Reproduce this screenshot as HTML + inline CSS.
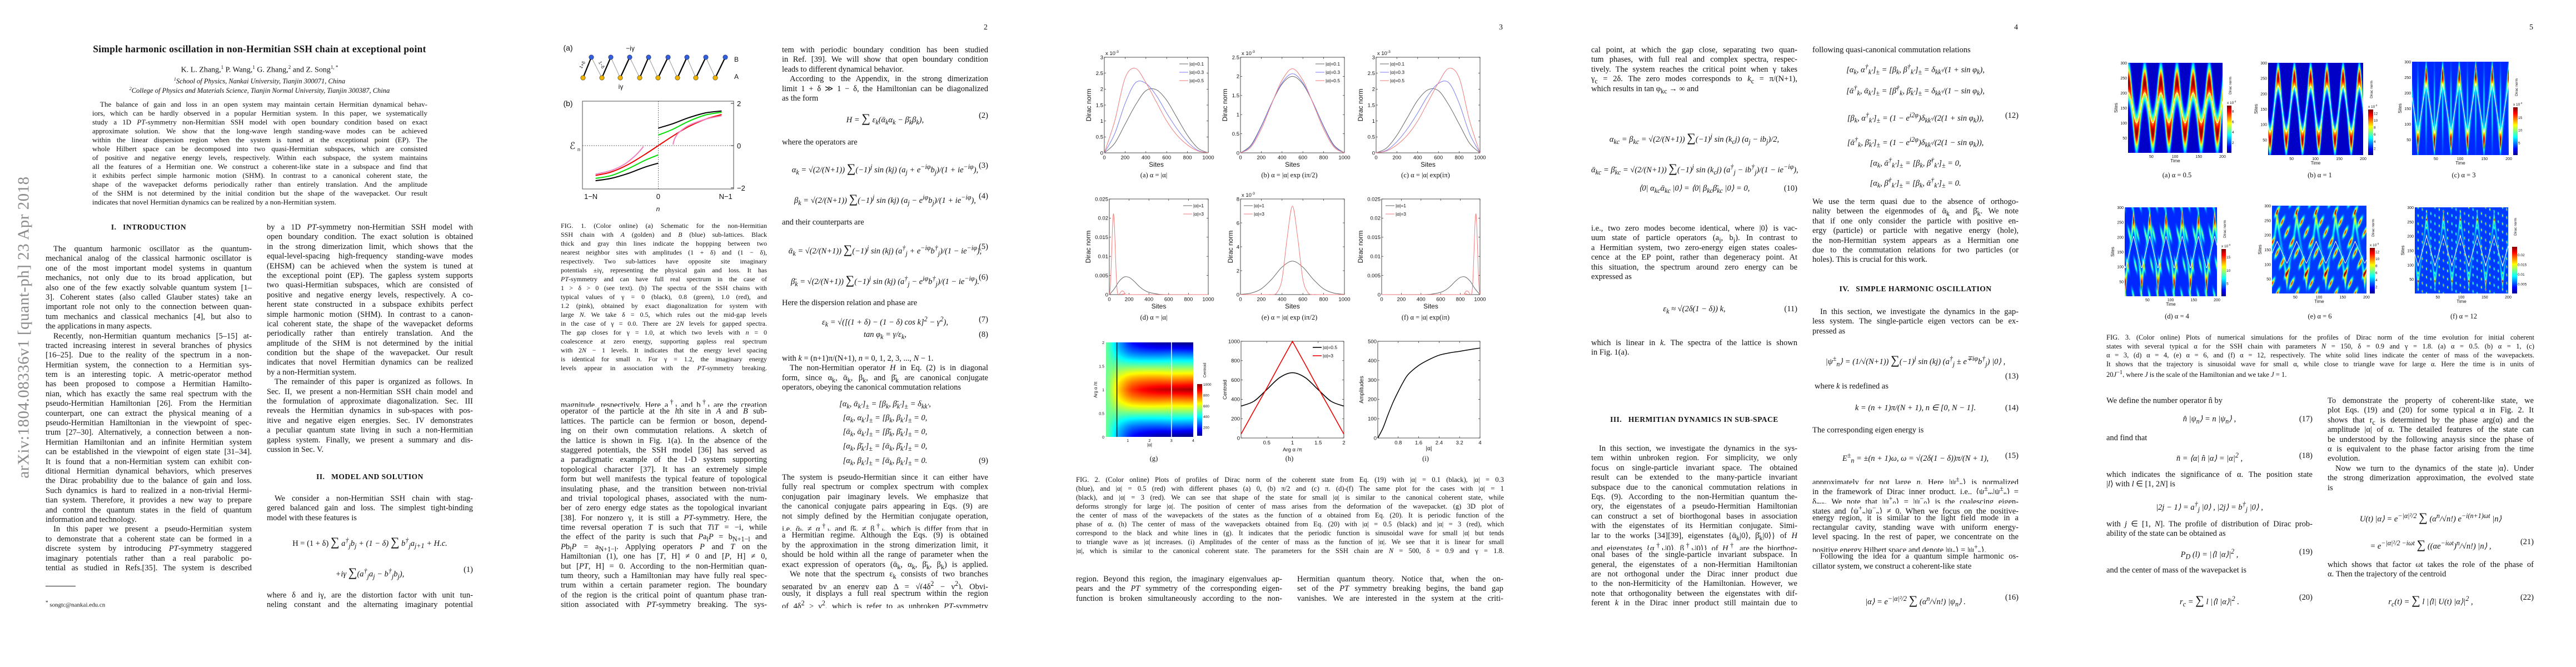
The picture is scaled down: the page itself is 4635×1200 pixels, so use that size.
<!DOCTYPE html>
<html><head><meta charset="utf-8"><title>Simple harmonic oscillation in non-Hermitian SSH chain</title>
<style>
html,body{margin:0;padding:0;background:#fff}
body{width:4635px;height:1200px;position:relative;overflow:hidden;font-family:"Liberation Serif",serif;color:#111}
.abs{position:absolute}
.col{position:absolute;width:371px;font-size:14.5px;line-height:17.4px}
.l{height:17.4px;overflow:hidden;text-align:justify;text-align-last:justify}
.l.e{text-align-last:left}
.l.i{text-indent:14px}
.cap{position:absolute;font-size:12px;line-height:16px}
.cap .l{height:16px}
.wcap{position:absolute;font-size:12.5px;line-height:16px;width:770px}
.wcap .l{height:16px}
.eq{position:absolute;width:371px;height:20px;font-size:14.5px;text-align:center;font-style:italic;white-space:nowrap}
.eq .n{position:absolute;right:0;top:0;font-style:normal}
.h{position:absolute;width:371px;text-align:center;font-weight:bold;font-size:13.5px;letter-spacing:0.5px}
.pn{position:absolute;font-size:14px}
.sub{position:absolute;font-size:12.5px;transform:translateX(-50%);white-space:nowrap}
canvas{position:absolute}
#overlay{position:absolute;left:0;top:0}
</style></head>
<body>

<!-- ================= PAGE 1 ================= -->
<div class="abs" style="left:43px;top:589px;transform:translate(-50%,-50%) rotate(-90deg);font-size:29px;color:#8a8a8a;white-space:nowrap;letter-spacing:0.5px">arXiv:1804.08336v1  [quant-ph]  23 Apr 2018</div>
<div class="abs" style="left:467px;top:78px;transform:translateX(-50%);font-size:17.5px;font-weight:bold;white-space:nowrap;letter-spacing:0.3px">Simple harmonic oscillation in non-Hermitian SSH chain at exceptional point</div>
<div class="abs" style="left:467px;top:116px;transform:translateX(-50%);font-size:14px;white-space:nowrap">K. L. Zhang,<sup style="font-size:9px">1</sup> P. Wang,<sup style="font-size:9px">1</sup> G. Zhang,<sup style="font-size:9px">2</sup> and Z. Song<sup style="font-size:9px">1, *</sup></div>
<div class="abs" style="left:467px;top:138px;transform:translateX(-50%);font-size:12.5px;font-style:italic;white-space:nowrap"><sup style="font-size:8px">1</sup>School of Physics, Nankai University, Tianjin 300071, China</div>
<div class="abs" style="left:467px;top:155px;transform:translateX(-50%);font-size:12.5px;font-style:italic;white-space:nowrap"><sup style="font-size:8px">2</sup>College of Physics and Materials Science, Tianjin Normal University, Tianjin 300387, China</div>
<div class="col" style="left:166px;top:180px;width:603px;font-size:13px;line-height:16px">
<div class="l i" style="height:16px">The balance of gain and loss in an open system may maintain certain Hermitian dynamical behav-</div>
<div class="l" style="height:16px">iors, which can be hardly observed in a popular Hermitian system. In this paper, we systematically</div>
<div class="l" style="height:16px">study a 1D <i>PT</i>-symmetry non-Hermitian SSH model with open boundary condition based on exact</div>
<div class="l" style="height:16px">approximate solution. We show that the long-wave length standing-wave modes can be achieved</div>
<div class="l" style="height:16px">within the linear dispersion region when the system is tuned at the exceptional point (EP). The</div>
<div class="l" style="height:16px">whole Hilbert space can be decomposed into two quasi-Hermitian subspaces, which are consisted</div>
<div class="l" style="height:16px">of positive and negative energy levels, respectively. Within each subspace, the system maintains</div>
<div class="l" style="height:16px">all the features of a Hermitian one. We construct a coherent-like state in a subspace and find that</div>
<div class="l" style="height:16px">it exhibits perfect simple harmonic motion (SHM). In contrast to a canonical coherent state, the</div>
<div class="l" style="height:16px">shape of the wavepacket deforms periodically rather than entirely translation. And the amplitude</div>
<div class="l" style="height:16px">of the SHM is not determined by the initial condition but the shape of the wavepacket. Our result</div>
<div class="l e" style="height:16px">indicates that novel Hermitian dynamics can be realized by a non-Hermitian system.</div>
</div>
<div class="h" style="left:82px;top:401px">I.&nbsp;&nbsp;&nbsp;INTRODUCTION</div>
<div class="col" style="left:82px;top:440px">
<div class="l i">The quantum harmonic oscillator as the quantum-</div>
<div class="l">mechanical analog of the classical harmonic oscillator is</div>
<div class="l">one of the most important model systems in quantum</div>
<div class="l">mechanics, not only due to its broad application, but</div>
<div class="l">also one of the few exactly solvable quantum system [1–</div>
<div class="l">3]. Coherent states (also called Glauber states) take an</div>
<div class="l">important role not only to the connection between quan-</div>
<div class="l">tum mechanics and classical mechanics [4], but also to</div>
<div class="l e">the applications in many aspects.</div>
<div class="l i">Recently, non-Hermitian quantum mechanics [5–15] at-</div>
<div class="l">tracted increasing interest in several branches of physics</div>
<div class="l">[16–25]. Due to the reality of the spectrum in a non-</div>
<div class="l">Hermitian system, the connection to a Hermitian sys-</div>
<div class="l">tem is an interesting topic. A metric-operator method</div>
<div class="l">has been proposed to compose a Hermitian Hamilto-</div>
<div class="l">nian, which has exactly the same real spectrum with the</div>
<div class="l">pseudo-Hermitian Hamiltonian [26]. From the Hermitian</div>
<div class="l">counterpart, one can extract the physical meaning of a</div>
<div class="l">pseudo-Hermitian Hamiltonian in the viewpoint of spec-</div>
<div class="l">trum [27–30]. Alternatively, a connection between a non-</div>
<div class="l">Hermitian Hamiltonian and an infinite Hermitian system</div>
<div class="l">can be established in the viewpoint of eigen state [31–34].</div>
<div class="l">It is found that a non-Hermitian system can exhibit con-</div>
<div class="l">ditional Hermitian dynamical behaviors, which preserves</div>
<div class="l">the Dirac probability due to the balance of gain and loss.</div>
<div class="l">Such dynamics is hard to realized in a non-trivial Hermi-</div>
<div class="l">tian system. Therefore, it provides a new way to prepare</div>
<div class="l">and control the quantum states in the field of quantum</div>
<div class="l e">information and technology.</div>
<div class="l i">In this paper we present a pseudo-Hermitian system</div>
<div class="l">to demonstrate that a coherent state can be formed in a</div>
<div class="l">discrete system by introducing <i>PT</i>-symmetry staggered</div>
<div class="l">imaginary potentials rather than a real parabolic po-</div>
<div class="l">tential as studied in Refs.[35]. The system is described</div>
</div>
<div class="abs" style="left:82px;top:1054px;width:54px;height:1px;background:#222"></div>
<div class="abs" style="left:82px;top:1079px;font-size:11px"><sup>*</sup> songtc@nankai.edu.cn</div>
<div class="col" style="left:480px;top:401px">
<div class="l">by a 1D <i>PT</i>-symmetry non-Hermitian SSH model with</div>
<div class="l">open boundary condition. The exact solution is obtained</div>
<div class="l">in the strong dimerization limit, which shows that the</div>
<div class="l">equal-level-spacing high-frequency standing-wave modes</div>
<div class="l">(EHSM) can be achieved when the system is tuned at</div>
<div class="l">the exceptional point (EP). The gapless system supports</div>
<div class="l">two quasi-Hermitian subspaces, which are consisted of</div>
<div class="l">positive and negative energy levels, respectively. A co-</div>
<div class="l">herent state constructed in a subspace exhibits perfect</div>
<div class="l">simple harmonic motion (SHM). In contrast to a canon-</div>
<div class="l">ical coherent state, the shape of the wavepacket deforms</div>
<div class="l">periodically rather than entirely translation. And the</div>
<div class="l">amplitude of the SHM is not determined by the initial</div>
<div class="l">condition but the shape of the wavepacket. Our result</div>
<div class="l">indicates that novel Hermitian dynamics can be realized</div>
<div class="l e">by a non-Hermitian system.</div>
<div class="l i">The remainder of this paper is organized as follows. In</div>
<div class="l">Sec. II, we present a non-Hermitian SSH chain model and</div>
<div class="l">the formulation of approximate diagonalization. Sec. III</div>
<div class="l">reveals the Hermitian dynamics in sub-spaces with pos-</div>
<div class="l">itive and negative eigen energies. Sec. IV demonstrates</div>
<div class="l">a peculiar quantum state living in such a non-Hermitian</div>
<div class="l">gapless system. Finally, we present a summary and dis-</div>
<div class="l e">cussion in Sec. V.</div>
</div>
<div class="h" style="left:480px;top:850px">II.&nbsp;&nbsp;&nbsp;MODEL AND SOLUTION</div>
<div class="col" style="left:480px;top:889px">
<div class="l i">We consider a non-Hermitian SSH chain with stag-</div>
<div class="l">gered balanced gain and loss. The simplest tight-binding</div>
<div class="l e">model with these features is</div>
</div>
<div class="eq" style="left:480px;top:962px"><span style="font-style:normal">H = (1 + δ) <span style="font-size:22px">∑</span></span> a<sup>†</sup><sub>j</sub>b<sub>j</sub> + (1 − δ) <span style="font-size:22px;font-style:normal">∑</span> b<sup>†</sup><sub>j</sub>a<sub>j+1</sub> + H.c.</div>
<div class="eq" style="left:480px;top:1017px">+iγ <span style="font-size:22px;font-style:normal">∑</span>(a<sup>†</sup><sub>j</sub>a<sub>j</sub> − b<sup>†</sup><sub>j</sub>b<sub>j</sub>),<span class="n">(1)</span></div>
<div class="col" style="left:480px;top:1063px">
<div class="l">where δ and iγ, are the distortion factor with unit tun-</div>
<div class="l">neling constant and the alternating imaginary potential</div>
</div>

<!-- ================= PAGE 2 ================= -->
<div class="pn" style="left:1770px;top:42px">2</div>
<div class="cap" style="left:1009px;top:398px;width:371px">
<div class="l">FIG. 1. (Color online) (a) Schematic for the non-Hermitian</div>
<div class="l">SSH chain with <i>A</i> (golden) and <i>B</i> (blue) sub-lattices. Black</div>
<div class="l">thick and gray thin lines indicate the hoppping between two</div>
<div class="l">nearest neighbor sites with amplitudes (1 + δ) and (1 − δ),</div>
<div class="l">respectively. Two sub-lattices have opposite site imaginary</div>
<div class="l">potentials ±iγ, representing the physical gain and loss. It has</div>
<div class="l"><i>PT</i>-symmetry and can have full real spectrum in the case of</div>
<div class="l">1 &gt; δ &gt; 0 (see text). (b) The spectra of the SSH chains with</div>
<div class="l">typical values of γ = 0 (black), 0.8 (green), 1.0 (red), and</div>
<div class="l">1.2 (pink), obtained by exact diagonalization for system with</div>
<div class="l">large <i>N</i>. We take δ = 0.5, which rules out the mid-gap levels</div>
<div class="l">in the case of γ = 0.0. There are 2<i>N</i> levels for gapped spectra.</div>
<div class="l">The gap closes for γ = 1.0, at which two levels with <i>n</i> = 0</div>
<div class="l">coalescence at zero energy, supporting gapless real spectrum</div>
<div class="l">with 2<i>N</i> − 1 levels. It indicates that the energy level spacing</div>
<div class="l">is identical for small <i>n</i>. For γ = 1.2, the imaginary energy</div>
<div class="l">levels appear in association with the <i>PT</i>-symmetry breaking.</div>
</div>
<div class="col" style="left:1009px;top:715px">
<div class="l">magnitude, respectively. Here a<sup>†</sup><sub>l</sub> and b<sup>†</sup><sub>l</sub> are the creation</div>
<div class="l">operator of the particle at the <i>l</i>th site in <i>A</i> and <i>B</i> sub-</div>
<div class="l">lattices. The particle can be fermion or boson, depend-</div>
<div class="l">ing on their own commutation relations. A sketch of</div>
<div class="l">the lattice is shown in Fig. 1(a). In the absence of the</div>
<div class="l">staggered potentials, the SSH model [36] has served as</div>
<div class="l">a paradigmatic example of the 1-D system supporting</div>
<div class="l">topological character [37]. It has an extremely simple</div>
<div class="l">form but well manifests the typical feature of topological</div>
<div class="l">insulating phase, and the transition between non-trivial</div>
<div class="l">and trivial topological phases, associated with the num-</div>
<div class="l">ber of zero energy edge states as the topological invariant</div>
<div class="l">[38]. For nonzero γ, it is still a <i>PT</i>-symmetry. Here, the</div>
<div class="l">time reversal operation <i>T</i> is such that <i>T</i>i<i>T</i> = −i, while</div>
<div class="l">the effect of the parity is such that <i>P</i>a<sub>l</sub><i>P</i> = b<sub>N+1−l</sub> and</div>
<div class="l"><i>P</i>b<sub>l</sub><i>P</i> = a<sub>N+1−l</sub>. Applying operators <i>P</i> and <i>T</i> on the</div>
<div class="l">Hamiltonian (1), one has [<i>T</i>, H] ≠ 0 and [<i>P</i>, H] ≠ 0,</div>
<div class="l">but [<i>PT</i>, H] = 0. According to the non-Hermitian quan-</div>
<div class="l">tum theory, such a Hamiltonian may have fully real spec-</div>
<div class="l">trum within a certain parameter region. The boundary</div>
<div class="l">of the region is the critical point of quantum phase tran-</div>
<div class="l">sition associated with <i>PT</i>-symmetry breaking. The sys-</div>
</div>
<div class="col" style="left:1407px;top:82px">
<div class="l">tem with periodic boundary condition has been studied</div>
<div class="l">in Ref. [39]. We will show that open boundary condition</div>
<div class="l e">leads to different dynamical behavior.</div>
<div class="l i">According to the Appendix, in the strong dimerization</div>
<div class="l">limit 1 + δ ≫ 1 − δ, the Hamiltonian can be diagonalized</div>
<div class="l e">as the form</div>
</div>
<div class="eq" style="left:1407px;top:200px">H = <span style="font-size:22px;font-style:normal">∑</span> ε<sub>k</sub>(ᾱ<sub>k</sub>α<sub>k</sub> − β̄<sub>k</sub>β<sub>k</sub>),<span class="n">(2)</span></div>
<div class="col" style="left:1407px;top:248px"><div class="l e">where the operators are</div></div>
<div class="eq" style="left:1407px;top:290px">α<sub>k</sub> = √(2/(N+1)) <span style="font-size:22px;font-style:normal">∑</span>(−1)<sup>j</sup> sin (kj) (a<sub>j</sub> + e<sup>−iφ</sup>b<sub>j</sub>)/(1 + ie<sup>−iφ</sup>),<span class="n">(3)</span></div>
<div class="eq" style="left:1407px;top:345px">β<sub>k</sub> = √(2/(N+1)) <span style="font-size:22px;font-style:normal">∑</span>(−1)<sup>j</sup> sin (kj) (a<sub>j</sub> − e<sup>iφ</sup>b<sub>j</sub>)/(1 + ie<sup>−iφ</sup>),<span class="n">(4)</span></div>
<div class="col" style="left:1407px;top:392px"><div class="l e">and their counterparts are</div></div>
<div class="eq" style="left:1407px;top:436px">ᾱ<sub>k</sub> = √(2/(N+1)) <span style="font-size:22px;font-style:normal">∑</span>(−1)<sup>j</sup> sin (kj) (a<sup>†</sup><sub>j</sub> + e<sup>−iφ</sup>b<sup>†</sup><sub>j</sub>)/(1 − ie<sup>−iφ</sup>),<span class="n">(5)</span></div>
<div class="eq" style="left:1407px;top:491px">β̄<sub>k</sub> = √(2/(N+1)) <span style="font-size:22px;font-style:normal">∑</span>(−1)<sup>j</sup> sin (kj) (a<sup>†</sup><sub>j</sub> − e<sup>iφ</sup>b<sup>†</sup><sub>j</sub>)/(1 − ie<sup>−iφ</sup>).<span class="n">(6)</span></div>
<div class="col" style="left:1407px;top:537px"><div class="l e">Here the dispersion relation and phase are</div></div>
<div class="eq" style="left:1407px;top:567px">ε<sub>k</sub> = √([(1 + δ) − (1 − δ) cos k]<sup>2</sup> − γ<sup>2</sup>),<span class="n">(7)</span></div>
<div class="eq" style="left:1407px;top:594px">tan φ<sub>k</sub> = γ/ε<sub>k</sub>,<span class="n">(8)</span></div>
<div class="col" style="left:1407px;top:637px">
<div class="l e">with <i>k</i> = (n+1)π/(N+1), <i>n</i> = 0, 1, 2, 3, ..., <i>N</i> − 1.</div>
<div class="l i">The non-Hermitian operator <i>H</i> in Eq. (2) is in diagonal</div>
<div class="l">form, since α<sub>k</sub>, ᾱ<sub>k</sub>, β<sub>k</sub>, and β̄<sub>k</sub> are canonical conjugate</div>
<div class="l e">operators, obeying the canonical commutation relations</div>
</div>
<div class="eq" style="left:1407px;top:719px">[α<sub>k</sub>, ᾱ<sub>k′</sub>]<sub>±</sub> = [β<sub>k</sub>, β̄<sub>k′</sub>]<sub>±</sub> = δ<sub>kk′</sub>,</div>
<div class="eq" style="left:1407px;top:744px">[α<sub>k</sub>, α<sub>k′</sub>]<sub>±</sub> = [β<sub>k</sub>, β<sub>k′</sub>]<sub>±</sub> = 0,</div>
<div class="eq" style="left:1407px;top:769px">[ᾱ<sub>k</sub>, ᾱ<sub>k′</sub>]<sub>±</sub> = [β̄<sub>k</sub>, β̄<sub>k′</sub>]<sub>±</sub> = 0,</div>
<div class="eq" style="left:1407px;top:795px">[α<sub>k</sub>, β̄<sub>k′</sub>]<sub>±</sub> = [ᾱ<sub>k</sub>, β̄<sub>k′</sub>]<sub>±</sub> = 0,</div>
<div class="eq" style="left:1407px;top:821px">[α<sub>k</sub>, β<sub>k′</sub>]<sub>±</sub> = [ᾱ<sub>k</sub>, β<sub>k′</sub>]<sub>±</sub> = 0.<span class="n">(9)</span></div>
<div class="col" style="left:1407px;top:851px">
<div class="l">The system is pseudo-Hermitian since it can either have</div>
<div class="l">fully real spectrum or complex spectrum with complex</div>
<div class="l">conjugation pair imaginary levels. We emphasize that</div>
<div class="l">the canonical conjugate pairs appearing in Eqs. (9) are</div>
<div class="l">not simply defined by the Hermitian conjugate operation,</div>
<div class="l">i.e. ᾱ<sub>k</sub> ≠ α<sup>†</sup><sub>k</sub> and β̄<sub>k</sub> ≠ β<sup>†</sup><sub>k</sub>, which is differ from that in</div>
<div class="l">a Hermitian regime. Although the Eqs. (9) is obtained</div>
<div class="l">by the approximation in the strong dimerization limit, it</div>
<div class="l">should be hold within all the range of parameter when the</div>
<div class="l">exact expression of operators (ᾱ<sub>k</sub>, α<sub>k</sub>, β̄<sub>k</sub>, β<sub>k</sub>) is applied.</div>
<div class="l i">We note that the spectrum ε<sub>k</sub> consists of two branches</div>
<div class="l">separated by an energy gap Δ = √(4δ<sup>2</sup> − γ<sup>2</sup>). Obvi-</div>
<div class="l">ously, it displays a full real spectrum within the region</div>
<div class="l">of 4δ<sup>2</sup> ≥ γ<sup>2</sup>, which is refer to as unbroken <i>PT</i>-symmetry</div>
</div>

<!-- ================= PAGE 3 ================= -->
<div class="pn" style="left:2697px;top:42px">3</div>
<div class="sub" style="left:2076px;top:308px">(a) α = |α|</div>
<div class="sub" style="left:2320px;top:308px">(b) α = |α| exp (iπ/2)</div>
<div class="sub" style="left:2565px;top:308px">(c) α = |α| exp(iπ)</div>
<div class="sub" style="left:2076px;top:564px">(d) α = |α|</div>
<div class="sub" style="left:2320px;top:564px">(e) α = |α| exp (iπ/2)</div>
<div class="sub" style="left:2565px;top:564px">(f) α = |α| exp(iπ)</div>
<div class="sub" style="left:2076px;top:818px">(g)</div>
<div class="sub" style="left:2320px;top:818px">(h)</div>
<div class="sub" style="left:2565px;top:818px">(i)</div>
<canvas id="cv2g" width="157" height="170" style="left:1990px;top:616px"></canvas>
<div class="wcap" style="left:1936px;top:855px">
<div class="l">FIG. 2. (Color online) Plots of profiles of Dirac norm of the coherent state from Eq. (19) with |α| = 0.1 (black), |α| = 0.3</div>
<div class="l">(blue), and |α| = 0.5 (red) with different phases (a) 0, (b) π/2 and (c) π. (d)-(f) The same plot for the cases with |α| = 1</div>
<div class="l">(black), and |α| = 3 (red). We can see that shape of the state for small |α| is similar to the canonical coherent state, while</div>
<div class="l">deforms strongly for large |α|. The position of center of mass arises from the deformation of the wavepacket. (g) 3D plot of</div>
<div class="l">the center of mass of the wavepackets of the states as the function of α obtained from Eq. (20). It is periodic function of the</div>
<div class="l">phase of α. (h) The center of mass of the wavepackets obtained from Eq. (20) with |α| = 0.5 (black) and |α| = 3 (red), which</div>
<div class="l">correspond to the black and white lines in (g). It indicates that the periodic function is sinusoidal wave for small |α| but tends</div>
<div class="l">to triangle wave as |α| increases. (i) Amplitudes of the center of mass as the function of |α|. We see that it is linear for small</div>
<div class="l">|α|, which is similar to the canonical coherent state. The parameters for the SSH chain are <i>N</i> = 500, δ = 0.9 and γ = 1.8.</div>
</div>
<div class="col" style="left:1936px;top:1034px">
<div class="l">region. Beyond this region, the imaginary eigenvalues ap-</div>
<div class="l">pears and the <i>PT</i> symmetry of the corresponding eigen-</div>
<div class="l">function is broken simultaneously according to the non-</div>
</div>
<div class="col" style="left:2334px;top:1034px">
<div class="l">Hermitian quantum theory. Notice that, when the on-</div>
<div class="l">set of the <i>PT</i> symmetry breaking begins, the band gap</div>
<div class="l">vanishes. We are interested in the system at the criti-</div>
</div>

<!-- ================= PAGE 4 ================= -->
<div class="pn" style="left:3624px;top:42px">4</div>
<div class="col" style="left:2863px;top:82px">
<div class="l">cal point, at which the gap close, separating two quan-</div>
<div class="l">tum phases, with full real and complex spectra, respec-</div>
<div class="l">tively. The system reaches the critical point when γ takes</div>
<div class="l">γ<sub>c</sub> = 2δ. The zero modes corresponds to <i>k</i><sub>c</sub> = π/(N+1),</div>
<div class="l e">which results in tan φ<sub>kc</sub> → ∞ and</div>
</div>
<div class="eq" style="left:2863px;top:235px">α<sub>kc</sub> = β<sub>kc</sub> = √(2/(N+1)) <span style="font-size:22px;font-style:normal">∑</span>(−1)<sup>j</sup> sin (k<sub>c</sub>j) (a<sub>j</sub> − ib<sub>j</sub>)/2,</div>
<div class="eq" style="left:2863px;top:290px">ᾱ<sub>kc</sub> = β̄<sub>kc</sub> = √(2/(N+1)) <span style="font-size:22px;font-style:normal">∑</span>(−1)<sup>j</sup> sin (k<sub>c</sub>j) (a<sup>†</sup><sub>j</sub> − ib<sup>†</sup><sub>j</sub>)/(1 − ie<sup>−iφ</sup>),</div>
<div class="eq" style="left:2863px;top:331px">⟨0| α<sub>kc</sub>ᾱ<sub>kc</sub> |0⟩ = ⟨0| β<sub>kc</sub>β̄<sub>kc</sub> |0⟩ = 0,<span class="n">(10)</span></div>
<div class="col" style="left:2863px;top:403px">
<div class="l">i.e., two zero modes become identical, where |0⟩ is vac-</div>
<div class="l">uum state of particle operators (a<sub>j</sub>, b<sub>j</sub>). In contrast to</div>
<div class="l">a Hermitian system, two zero-energy eigen states coales-</div>
<div class="l">cence at the EP point, rather than degeneracy point. At</div>
<div class="l">this situation, the spectrum around zero energy can be</div>
<div class="l e">expressed as</div>
</div>
<div class="eq" style="left:2863px;top:548px">ε<sub>k</sub> ≈ √(2δ(1 − δ)) k,<span class="n">(11)</span></div>
<div class="col" style="left:2863px;top:609px">
<div class="l">which is linear in <i>k</i>. The spectra of the lattice is shown</div>
<div class="l e">in Fig. 1(a).</div>
</div>
<div class="h" style="left:2863px;top:747px">III.&nbsp;&nbsp;&nbsp;HERMITIAN DYNAMICS IN SUB-SPACE</div>
<div class="col" style="left:2863px;top:799px">
<div class="l i">In this section, we investigate the dynamics in the sys-</div>
<div class="l">tem within unbroken region. For simplicity, we only</div>
<div class="l">focus on single-particle invariant space. The obtained</div>
<div class="l">result can be extended to the many-particle invariant</div>
<div class="l">subspace due to the canonical commutation relations in</div>
<div class="l">Eqs. (9). According to the non-Hermitian quantum the-</div>
<div class="l">ory, the eigenstates of a pseudo-Hermitian Hamiltonian</div>
<div class="l">can construct a set of biorthogonal bases in association</div>
<div class="l">with the eigenstates of its Hermitian conjugate. Simi-</div>
<div class="l">lar to the works [34][39], eigenstates {ᾱ<sub>k</sub>|0⟩, β̄<sub>k</sub>|0⟩} of <i>H</i></div>
<div class="l">and eigenstates {α<sup>†</sup><sub>k</sub>|0⟩, β<sup>†</sup><sub>k</sub>|0⟩} of <i>H</i><sup>†</sup> are the biorthog-</div>
<div class="l">onal bases of the single-particle invariant subspace. In</div>
<div class="l">general, the eigenstates of a non-Hermitian Hamiltonian</div>
<div class="l">are not orthogonal under the Dirac inner product due</div>
<div class="l">to the non-Hermiticity of the Hamiltonian. However, we</div>
<div class="l">note that orthogonality between the eigenstates with dif-</div>
<div class="l">ferent <i>k</i> in the Dirac inner product still maintain due to</div>
</div>
<div class="col" style="left:3261px;top:82px"><div class="l e">following quasi-canonical commutation relations</div></div>
<div class="eq" style="left:3261px;top:113px">[α<sub>k</sub>, α<sup>†</sup><sub>k′</sub>]<sub>±</sub> = [β<sub>k</sub>, β<sup>†</sup><sub>k′</sub>]<sub>±</sub> = δ<sub>kk′</sub>/(1 + sin φ<sub>k</sub>),</div>
<div class="eq" style="left:3261px;top:151px">[ᾱ<sup>†</sup><sub>k</sub>, ᾱ<sub>k′</sub>]<sub>±</sub> = [β̄<sup>†</sup><sub>k</sub>, β̄<sub>k′</sub>]<sub>±</sub> = δ<sub>kk′</sub>/(1 − sin φ<sub>k</sub>),</div>
<div class="eq" style="left:3261px;top:200px">[β<sub>k</sub>, α<sup>†</sup><sub>k′</sub>]<sub>±</sub> = (1 − e<sup>i2φ</sup>)δ<sub>kk′</sub>/(2(1 + sin φ<sub>k</sub>)),<span class="n">(12)</span></div>
<div class="eq" style="left:3261px;top:244px">[ᾱ<sup>†</sup><sub>k</sub>, β̄<sub>k′</sub>]<sub>±</sub> = (1 − e<sup>i2φ</sup>)δ<sub>kk′</sub>/(2(1 − sin φ<sub>k</sub>)),</div>
<div class="eq" style="left:3261px;top:281px">[α<sub>k</sub>, ᾱ<sup>†</sup><sub>k′</sub>]<sub>±</sub> = [β<sub>k</sub>, β̄<sup>†</sup><sub>k′</sub>]<sub>±</sub> = 0,</div>
<div class="eq" style="left:3261px;top:317px">[α<sub>k</sub>, β̄<sup>†</sup><sub>k′</sub>]<sub>±</sub> = [β<sub>k</sub>, ᾱ<sup>†</sup><sub>k′</sub>]<sub>±</sub> = 0.</div>
<div class="col" style="left:3261px;top:355px">
<div class="l">We use the term quasi due to the absence of orthogo-</div>
<div class="l">nality between the eigenmodes of ᾱ<sub>k</sub> and β̄<sub>k</sub>. We note</div>
<div class="l">that if one only consider the particle with positive en-</div>
<div class="l">ergy (particle) or particle with negative energy (hole),</div>
<div class="l">the non-Hermitian system appears as a Hermitian one</div>
<div class="l">due to the commutation relations for two particles (or</div>
<div class="l e">holes). This is crucial for this work.</div>
</div>
<div class="h" style="left:3261px;top:512px">IV.&nbsp;&nbsp;&nbsp;SIMPLE HARMONIC OSCILLATION</div>
<div class="col" style="left:3261px;top:553px">
<div class="l i">In this section, we investigate the dynamics in the gap-</div>
<div class="l">less system. The single-particle eigen vectors can be ex-</div>
<div class="l e">pressed as</div>
</div>
<div class="eq" style="left:3261px;top:635px">|ψ<sup>±</sup><sub>n</sub>⟩ = (1/√(N+1)) <span style="font-size:22px;font-style:normal">∑</span>(−1)<sup>j</sup> sin (kj) (a<sup>†</sup><sub>j</sub> ± e<sup>∓iφ</sup>b<sup>†</sup><sub>j</sub>) |0⟩ ,</div>
<div class="eq" style="left:3261px;top:669px"><span class="n">(13)</span></div>
<div class="col" style="left:3265px;top:687px"><div class="l e">where <i>k</i> is redefined as</div></div>
<div class="eq" style="left:3261px;top:726px">k = (n + 1)π/(N + 1), n ∈ [0, N − 1].<span class="n">(14)</span></div>
<div class="col" style="left:3261px;top:766px"><div class="l e">The corresponding eigen energy is</div></div>
<div class="eq" style="left:3261px;top:812px">E<sup>±</sup><sub>n</sub> = ±(n + 1)ω, ω = √(2δ(1 − δ))π/(N + 1),<span class="n">(15)</span></div>
<div class="col" style="left:3261px;top:854px">
<div class="l">approximately for not large <i>n</i>. Here |ψ<sup>±</sup><sub>n</sub>⟩ is normalized</div>
<div class="l">in the framework of Dirac inner product, i.e., ⟨ψ<sup>±</sup><sub>m</sub>|ψ<sup>±</sup><sub>n</sub>⟩ =</div>
<div class="l">δ<sub>mn</sub>. We note that |ψ<sup>+</sup><sub>0</sub>⟩ = |ψ<sup>−</sup><sub>0</sub>⟩ is the coalescing eigen-</div>
<div class="l">states and ⟨ψ<sup>+</sup><sub>n</sub>|ψ<sup>−</sup><sub>n</sub>⟩ ≠ 0. When we focus on the positive-</div>
<div class="l">energy region, it is similar to the light field mode in a</div>
<div class="l">rectangular cavity, standing wave with uniform energy-</div>
<div class="l">level spacing. In the rest of paper, we concentrate on the</div>
<div class="l e">positive energy Hilbert space and denote |ψ<sub>n</sub>⟩ = |ψ<sup>+</sup><sub>n</sub>⟩.</div>
<div class="l i">Following the idea for a quantum simple harmonic os-</div>
<div class="l e">cillator system, we construct a coherent-like state</div>
</div>
<div class="eq" style="left:3261px;top:1067px">|α⟩ = e<sup>−|α|²/2</sup> <span style="font-size:22px;font-style:normal">∑</span> (α<sup>n</sup>/√n!) |ψ<sub>n</sub>⟩ .<span class="n">(16)</span></div>

<!-- ================= PAGE 5 ================= -->
<div class="pn" style="left:4551px;top:42px">5</div>
<canvas id="cv3a" width="170" height="162" style="left:3829px;top:113px"></canvas>
<canvas id="cv3b" width="171" height="166" style="left:4081px;top:113px"></canvas>
<canvas id="cv3c" width="174" height="168" style="left:4340px;top:111px"></canvas>
<canvas id="cv3d" width="166" height="160" style="left:3823px;top:373px"></canvas>
<canvas id="cv3e" width="170" height="158" style="left:4088px;top:370px"></canvas>
<canvas id="cv3f" width="168" height="155" style="left:4345px;top:373px"></canvas>
<div class="sub" style="left:3917px;top:308px">(a) α = 0.5</div>
<div class="sub" style="left:4174px;top:308px">(b) α = 1</div>
<div class="sub" style="left:4433px;top:308px">(c) α = 3</div>
<div class="sub" style="left:3917px;top:562px">(d) α = 4</div>
<div class="sub" style="left:4174px;top:562px">(e) α = 6</div>
<div class="sub" style="left:4433px;top:562px">(f) α = 12</div>
<div class="wcap" style="left:3790px;top:599px">
<div class="l">FIG. 3. (Color online) Plots of numerical simulations for the profiles of Dirac norm of the time evolution for initial coherent</div>
<div class="l">states with several typical α for the SSH chain with parameters <i>N</i> = 150, δ = 0.9 and γ = 1.8. (a) α = 0.5. (b) α = 1, (c)</div>
<div class="l">α = 3, (d) α = 4, (e) α = 6, and (f) α = 12, respectively. The white solid lines indicate the center of mass of the wavepackets.</div>
<div class="l">It shows that the trajectory is sinusoidal wave for small α, while close to triangle wave for large α. Here the time is in units of</div>
<div class="l e">20<i>J</i><sup>−1</sup>, where <i>J</i> is the scale of the Hamiltonian and we take <i>J</i> = 1.</div>
</div>
<div class="col" style="left:3790px;top:713px"><div class="l e">We define the number operator n̂ by</div></div>
<div class="eq" style="left:3790px;top:746px">n̂ |ψ<sub>n</sub>⟩ = n |ψ<sub>n</sub>⟩ ,<span class="n">(17)</span></div>
<div class="col" style="left:3790px;top:780px"><div class="l e">and find that</div></div>
<div class="eq" style="left:3790px;top:812px">n̄ = ⟨α| n̂ |α⟩ = |α|<sup>2</sup> ,<span class="n">(18)</span></div>
<div class="col" style="left:3790px;top:846px">
<div class="l">which indicates the significance of α. The position state</div>
<div class="l e">|<i>l</i>⟩ with <i>l</i> ∈ [1, 2<i>N</i>] is</div>
</div>
<div class="eq" style="left:3790px;top:900px">|2j − 1⟩ = a<sup>†</sup><sub>j</sub> |0⟩ , |2j⟩ = b<sup>†</sup><sub>j</sub> |0⟩ ,</div>
<div class="col" style="left:3790px;top:935px">
<div class="l">with <i>j</i> ∈ [1, <i>N</i>]. The profile of distribution of Dirac prob-</div>
<div class="l e">ability of the state can be obtained as</div>
</div>
<div class="eq" style="left:3790px;top:985px">P<sub>D</sub> (l) = |⟨l |α⟩|<sup>2</sup> ,<span class="n">(19)</span></div>
<div class="col" style="left:3790px;top:1018px"><div class="l e">and the center of mass of the wavepacket is</div></div>
<div class="eq" style="left:3790px;top:1067px">r<sub>c</sub> = <span style="font-size:22px;font-style:normal">∑</span> l |⟨l |α⟩|<sup>2</sup> .<span class="n">(20)</span></div>
<div class="col" style="left:4188px;top:713px">
<div class="l">To demonstrate the property of coherent-like state, we</div>
<div class="l">plot Eqs. (19) and (20) for some typical α in Fig. 2. It</div>
<div class="l">shows that r<sub>c</sub> is determined by the phase arg(α) and the</div>
<div class="l">amplitude |α| of α. The detailed features of the state can</div>
<div class="l">be understood by the following anaysis since the phase of</div>
<div class="l">α is equivalent to the phase factor arising from the time</div>
<div class="l e">evolution.</div>
<div class="l i">Now we turn to the dynamics of the state |α⟩. Under</div>
<div class="l">the strong dimerization approximation, the evolved state</div>
<div class="l e">is</div>
</div>
<div class="eq" style="left:4188px;top:918px">U(t) |α⟩ = e<sup>−|α|²/2</sup> <span style="font-size:22px;font-style:normal">∑</span> (α<sup>n</sup>/√n!) e<sup>−i(n+1)ωt</sup> |n⟩</div>
<div class="eq" style="left:4188px;top:967px">= e<sup>−|α|²/2 −iωt</sup> <span style="font-size:22px;font-style:normal">∑</span> ((αe<sup>−iωt</sup>)<sup>n</sup>/√n!) |n⟩ ,<span class="n">(21)</span></div>
<div class="col" style="left:4188px;top:1008px">
<div class="l">which shows that factor ωt takes the role of the phase of</div>
<div class="l e">α. Then the trajectory of the centroid</div>
</div>
<div class="eq" style="left:4188px;top:1067px">r<sub>c</sub>(t) = <span style="font-size:22px;font-style:normal">∑</span> l |⟨l| U(t) |α⟩|<sup>2</sup> ,<span class="n">(22)</span></div>

<svg id="overlay" width="4635" height="1200" style="font-family:'Liberation Sans',sans-serif">
<defs>
<linearGradient id="jetv" x1="0" y1="1" x2="0" y2="0">
<stop offset="0" stop-color="#00008f"/><stop offset="0.125" stop-color="#0000ff"/><stop offset="0.375" stop-color="#00ffff"/><stop offset="0.625" stop-color="#ffff00"/><stop offset="0.875" stop-color="#ff0000"/><stop offset="1" stop-color="#800000"/>
</linearGradient>
</defs>
</svg>

<script>
// ---------- Fig 1(b) data ----------
const fig1LeftU=[-0.93,-0.7,-0.45,-0.2,0];
const fig1RightU=[0,0.2,0.45,0.7,0.94];
const fig1BlackLeft=[-1.66,-1.55,-1.32,-1.02,-0.83];
const fig1BlackRight=[0.83,1.02,1.32,1.55,1.64];
const fig1GreenLeft=[-1.55,-1.42,-1.1,-0.7,-0.44];
const fig1GreenRight=[0.5,0.75,1.15,1.45,1.58];
const fig1RedU=[-0.93,-0.7,-0.45,-0.2,0,0.2,0.45,0.7,0.94];
const fig1Red=[-1.41,-1.25,-0.9,-0.42,0,0.42,0.9,1.25,1.47];
const fig1PinkLeftU=[-0.93,-0.7,-0.5,-0.35,-0.26,-0.22];
const fig1PinkLeft=[-1.35,-1.18,-0.88,-0.5,-0.2,-0.04];
const fig1PinkRightU=[0.22,0.24,0.3,0.45,0.7,0.94];
const fig1PinkRight=[0.05,0.3,0.6,0.95,1.25,1.41];

// ---------- Fig 2 data ----------
const sites11=[0,100,200,300,400,500,600,700,800,900,1000];
const fig2aBlack=[0,0.3,0.9,1.5,1.95,1.98,1.65,1.1,0.55,0.15,0];
const fig2aBlue=[0,0.6,1.55,2.2,2.18,1.8,1.25,0.75,0.35,0.08,0];
const fig2aRed=[0,1.0,2.35,2.65,2.2,1.6,1.0,0.55,0.25,0.06,0];
const fig2bBlack=[0,0.2,0.7,1.3,1.8,2.0,1.8,1.3,0.7,0.2,0];
const fig2bBlue=[0,0.18,0.68,1.3,1.83,2.07,1.83,1.3,0.68,0.18,0];
const fig2bRed=[0,0.15,0.62,1.28,1.9,2.2,1.9,1.28,0.62,0.15,0];
const fig2cBlack=[0,0.15,0.55,1.1,1.65,1.98,1.95,1.5,0.9,0.3,0];
const fig2cBlue=[0,0.08,0.35,0.75,1.25,1.8,2.18,2.2,1.55,0.6,0];
const fig2cRed=[0,0.06,0.25,0.55,1.0,1.6,2.2,2.65,2.35,1.0,0];
const fig2dRedX=[0,10,20,30,40,50,60,70,80,90,100,120,140,160,200,1000];
const fig2dRed=[0,0.002,0.008,0.016,0.021,0.019,0.012,0.005,0.001,0,0,0.0008,0.0009,0.0003,0,0];
const fig2dBlackX=[0,50,100,150,200,250,300,350,400,500,600,1000];
const fig2dBlack=[0,0.0015,0.0035,0.0046,0.0045,0.0035,0.0022,0.0012,0.0006,0.0001,0,0];
const fig2eRedX=[0,250,300,350,400,450,500,550,600,650,700,750,1000];
const fig2eRed=[0,0,0,0.16,1.3,4.8,7.4,4.8,1.3,0.16,0,0,0];
const fig2eBlack=[0.02,0.12,0.48,1.28,2.3,2.8,2.3,1.28,0.48,0.12,0.02];
const fig2fRedX=[0,800,840,860,880,900,910,920,930,940,950,960,970,980,990,1000];
const fig2fRed=[0,0,0.0003,0.0009,0.0008,0,0,0.001,0.005,0.012,0.019,0.021,0.016,0.008,0.002,0];
const fig2fBlackX=[0,400,500,600,650,700,750,800,850,900,950,1000];
const fig2fBlack=[0,0,0.0001,0.0006,0.0012,0.0022,0.0035,0.0045,0.0046,0.0035,0.0015,0];
const fig2hArg=[0,0.25,0.5,0.75,1,1.25,1.5,1.75,2];
const fig2hBlack=[330,380,500,624,675,624,500,380,330];
const fig2hRed=[40,280,515,760,1000,760,515,280,40];
const fig2iAlpha=[0,0.2,0.4,0.6,0.8,1.0,1.2,1.6,2.0,2.4,2.8,3.2,3.6,4];
const fig2iAmp=[0,50,120,185,240,290,330,375,405,428,440,448,457,465];

// ---------- Fig 3 data ----------
const fig3Alpha=[0.5,1,3,4,6,12];
const fig3CentroidMid=[150,150,150,148,140,148];
const fig3CentroidAmp=[50,75,80,55,38,52];
const fig3PacketAmp=[85,105,112,112,110,115];
const fig3Period=[34,34,34,35,41,36];
const fig3PeakT=[2,22,30,20,12,26];
const fig3Width=[38,27,20,18,16,12];
const fig3CbarMax=[9,13,19,18,13,0.024];
const fig3CbarTicks=[[2,4,6,8],[2,4,6,8,10,12],[5,10,15],[5,10,15],[2,4,6,8,10,12],[0.005,0.01,0.015,0.02]];

const NS='http://www.w3.org/2000/svg';
const ov=document.getElementById('overlay');
function mk(tag,attrs,parent){const e=document.createElementNS(NS,tag);for(const k in attrs)e.setAttribute(k,attrs[k]);(parent||ov).appendChild(e);return e;}
function txt(s,x,y,size,anchor,parent,rot){const t=mk('text',{x:x,y:y,'font-size':size,'text-anchor':anchor||'middle',fill:'#111'},parent);if(rot)t.setAttribute('transform','rotate('+rot+' '+x+' '+y+')');t.textContent=s;return t;}
function jet(v){v=Math.max(0,Math.min(1,v));const c=x=>Math.max(0,Math.min(1,1.5-Math.abs(x)));return [c(4*v-3)*255,c(4*v-2)*255,c(4*v-1)*255];}
function smooth(pts){let d='M'+pts[0][0]+','+pts[0][1];for(let i=0;i<pts.length-1;i++){const p0=pts[Math.max(0,i-1)],p1=pts[i],p2=pts[i+1],p3=pts[Math.min(pts.length-1,i+2)];const c1=[p1[0]+(p2[0]-p0[0])/6,p1[1]+(p2[1]-p0[1])/6],c2=[p2[0]-(p3[0]-p1[0])/6,p2[1]-(p3[1]-p1[1])/6];d+=' C'+c1[0]+','+c1[1]+' '+c2[0]+','+c2[1]+' '+p2[0]+','+p2[1];}return d;}

function makeScale(box,xr,yr){return {x:v=>box.x+(v-xr[0])/(xr[1]-xr[0])*box.w,y:v=>box.y+box.h-(v-yr[0])/(yr[1]-yr[0])*box.h};}
function axes(name,box,xr,yr,xt,yt,fs,xlab,ylab,opts){
  opts=opts||{};
  const g=mk('g',{});
  
  
  const s=makeScale(box,xr,yr);
  const r=mk('rect',{x:box.x,y:box.y,width:box.w,height:box.h,fill:'none',stroke:opts.frame||'#222','stroke-width':0.8},g);
  
  
  xt.forEach(v=>{const X=s.x(v);mk('line',{x1:X,y1:box.y+box.h,x2:X,y2:box.y+box.h-3,stroke:'#222','stroke-width':0.7},g);mk('line',{x1:X,y1:box.y,x2:X,y2:box.y+3,stroke:'#222','stroke-width':0.7},g);
    const t=txt(String(v),X,box.y+box.h+fs+2,fs,'middle',g);});
  yt.forEach((v,i)=>{const Y=s.y(v);mk('line',{x1:box.x,y1:Y,x2:box.x+3,y2:Y,stroke:'#222','stroke-width':0.7},g);mk('line',{x1:box.x+box.w,y1:Y,x2:box.x+box.w-3,y2:Y,stroke:'#222','stroke-width':0.7},g);
    const lab=opts.ylabFmt?opts.ylabFmt[i]:String(v);const t=txt(lab,box.x-2,Y+fs*0.35,fs,'end',g);});
  if(xlab){const t=txt(xlab,box.x+box.w/2,box.y+box.h+(opts.xlabOff||2*fs+6),opts.labFs||fs+3,'middle',g);}
  if(ylab){const X=box.x-(opts.ylabOff||32),Y=box.y+box.h/2;const t=txt(ylab,X,Y,opts.labFs||fs+3,'middle',g,-90);}
  if(opts.exp){const t=mk('text',{x:box.x+2,y:box.y-4,'font-size':fs,fill:'#111'},g);t.innerHTML='x 10<tspan dy="-4" font-size="'+(fs*0.7)+'">-3</tspan>';}
  return s;
}
function curve(name,s,xs,ys,color,w){const p=mk('path',{d:smooth(xs.map((x,i)=>[s.x(x),s.y(ys[i])])),fill:'none',stroke:color,'stroke-width':w||1});
  
  return p;}
function legend(name,x,y,items,fs,lw){const g=mk('g',{});
  
  
  items.forEach((it,i)=>{const Y=y+i*15;mk('line',{x1:x,y1:Y,x2:x+16,y2:Y,stroke:it[1],'stroke-width':lw||1},g);const t=txt(it[0],x+18,Y+fs*0.35,fs,'start',g);});}

// ---------- Fig 1(a) chain ----------
(function(){
  const g=mk('g',{});
  
  
  const blueX=[1064,1099,1133,1167,1202,1236,1270,1305], yelX=[1049,1083,1116,1151,1184,1219,1252,1287];
  for(let i=0;i<8;i++){mk('line',{x1:yelX[i],y1:140,x2:blueX[i],y2:103,stroke:'#000','stroke-width':2.2},g);if(i<7)mk('line',{x1:blueX[i],y1:103,x2:yelX[i+1],y2:140,stroke:'#999','stroke-width':1},g);}
  for(let i=0;i<8;i++){const b=mk('circle',{cx:blueX[i],cy:103,r:4.2,fill:'#3060e0',stroke:'#223','stroke-width':0.6},g);
    const a=mk('circle',{cx:yelX[i],cy:140,r:4.2,fill:'#f0b400',stroke:'#332','stroke-width':0.6},g);}
  txt('(a)',1022,91,14,'middle',g);txt('−iγ',1134,91,12,'middle',g);txt('iγ',1117,160,12,'middle',g);
  txt('B',1325,111,12,'middle',g);txt('A',1325,142,12,'middle',g);
  txt('1+δ',1050,118,8,'middle',g,-60);txt('1−δ',1080,118,8,'middle',g,60);
})();
// ---------- Fig 1(b) spectrum ----------
(function(){
  const box={x:1048,y:182,w:272,h:158};
  const g=mk('g',{});
  
  
  const s={x:u=>1184.4+u*121.3,y:v=>262-v*38};
  mk('rect',{x:box.x,y:box.y,width:box.w,height:box.h,fill:'none',stroke:'#222','stroke-width':0.8},g);
  mk('line',{x1:box.x,y1:262,x2:box.x+box.w,y2:262,stroke:'#333','stroke-dasharray':'2,2','stroke-width':0.7},g);
  mk('line',{x1:1184.4,y1:box.y,x2:1184.4,y2:box.y+box.h,stroke:'#333','stroke-dasharray':'2,2','stroke-width':0.7},g);
  [2,0,-2].forEach(v=>{mk('line',{x1:box.x+box.w,y1:s.y(v),x2:box.x+box.w-5,y2:s.y(v),stroke:'#222'},g);txt(v===-2?'−2':String(v),box.x+box.w+6,s.y(v)+5,13,'start',g);});
  [['1−N',-1],['0',0],['N−1',1]].forEach(p=>txt(p[0],s.x(p[1]),358,13,'middle',g));
  txt('n',1184,380,12,'middle',g).setAttribute('font-style','italic');
  const e=txt('ℰ',1030,268,17,'middle',g);e.setAttribute('font-family','Liberation Serif');txt('n',1039,272,9,'start',g);
  txt('(b)',1022,191,14,'middle',g);
  curve('curve-black-left',s,fig1LeftU,fig1BlackLeft,'#000',2);
  curve('curve-black-right',s,fig1RightU,fig1BlackRight,'#000',2);
  curve('curve-green-left',s,fig1LeftU,fig1GreenLeft,'#00dd00',2);
  curve('curve-green-right',s,fig1RightU,fig1GreenRight,'#00dd00',2);
  curve('curve-red',s,fig1RedU,fig1Red,'#ee0000',2);
  curve('curve-pink-left',s,fig1PinkLeftU,fig1PinkLeft,'#f080c0',2);
  curve('curve-pink-right',s,fig1PinkRightU,fig1PinkRight,'#f080c0',2);
})();

// ---------- Fig 2 line plots ----------
const GR='#666',BL='#7a7af0',RD='#f07a7a';
const xtS=[0,200,400,600,800,1000];
let s;
s=axes('fig2a-plot',{x:1987,y:103,w:187,h:172},[0,1000],[0,3],xtS,[0,0.5,1,1.5,2,2.5,3],9.5,'Sites','Dirac norm',{exp:true,ylabOff:24,labFs:12});
curve('fig2a-black',s,sites11,fig2aBlack,GR);curve('fig2a-blue',s,sites11,fig2aBlue,BL);curve('fig2a-red',s,sites11,fig2aRed,RD);
legend('fig2a-legend',2122,115,[['|α|=0.1',GR],['|α|=0.3',BL],['|α|=0.5',RD]],8.5);
s=axes('fig2b-plot',{x:2232,y:103,w:187,h:172},[0,1000],[0,2.5],xtS,[0,0.5,1,1.5,2,2.5],9.5,'Sites','Dirac norm',{exp:true,ylabOff:24,labFs:12});
curve('fig2b-black',s,sites11,fig2bBlack,GR);curve('fig2b-blue',s,sites11,fig2bBlue,BL);curve('fig2b-red',s,sites11,fig2bRed,RD);
legend('fig2b-legend',2367,115,[['|α|=0.1',GR],['|α|=0.3',BL],['|α|=0.5',RD]],8.5);
s=axes('fig2c-plot',{x:2476,y:103,w:187,h:172},[0,1000],[0,3],xtS,[0,0.5,1,1.5,2,2.5,3],9.5,'Sites','Dirac norm',{exp:true,ylabOff:24,labFs:12});
curve('fig2c-black',s,sites11,fig2cBlack,GR);curve('fig2c-blue',s,sites11,fig2cBlue,BL);curve('fig2c-red',s,sites11,fig2cRed,RD);
legend('fig2c-legend',2483,115,[['|α|=0.1',GR],['|α|=0.3',BL],['|α|=0.5',RD]],8.5);
s=axes('fig2d-plot',{x:1996,y:358,w:178,h:172},[0,1000],[0,0.025],xtS,[0,0.005,0.01,0.015,0.02,0.025],9.5,'Sites','Dirac norm',{ylabOff:34,labFs:12});
curve('fig2d-black',s,fig2dBlackX,fig2dBlack,GR);curve('fig2d-red',s,fig2dRedX,fig2dRed,RD);
legend('fig2d-legend',2129,370,[['|α|=1',GR],['|α|=3',RD]],8.5);
s=axes('fig2e-plot',{x:2232,y:358,w:187,h:172},[0,1000],[0,8],xtS,[0,2,4,6,8],9.5,'Sites','Dirac norm',{exp:true,ylabOff:14,labFs:12});
curve('fig2e-black',s,sites11,fig2eBlack,GR);curve('fig2e-red',s,fig2eRedX,fig2eRed,RD);
legend('fig2e-legend',2238,370,[['|α|=1',GR],['|α|=3',RD]],8.5);
s=axes('fig2f-plot',{x:2486,y:358,w:177,h:172},[0,1000],[0,0.025],xtS,[0,0.005,0.01,0.015,0.02,0.025],9.5,'Sites','Dirac norm',{ylabOff:34,labFs:12});
curve('fig2f-black',s,fig2fBlackX,fig2fBlack,GR);curve('fig2f-red',s,fig2fRedX,fig2fRed,RD);
legend('fig2f-legend',2493,370,[['|α|=1',GR],['|α|=3',RD]],8.5);
// (h)
s=axes('fig2h-plot',{x:2233,y:614,w:185,h:174},[0,2],[0,1000],[0.5,1,1.5,2],[0,200,400,600,800,1000],9.5,'Arg α /π','Centroid',{ylabOff:26,labFs:9.5,xlabOff:24});
curve('fig2h-black',s,fig2hArg,fig2hBlack,'#000',1.6);
const redPath=mk('path',{d:'M'+fig2hArg.map((a,i)=>s.x(a)+','+s.y(fig2hRed[i])).join(' L'),fill:'none',stroke:'#e00','stroke-width':1.6});


legend('fig2h-legend',2362,625,[['|α|=0.5','#000'],['|α|=3','#e00']],8.5,1.6);
// (i)
s=axes('fig2i-plot',{x:2479,y:614,w:184,h:174},[0,4],[0,500],[0.8,1.6,2.4,3.2,4],[0,100,200,300,400,500],9.5,'|α|','Amplitudes',{ylabOff:26,labFs:10,xlabOff:22});
curve('fig2i-amplitude',s,fig2iAlpha,fig2iAmp,'#000',1.5);

// (g) heatmap
function ampAt(a){for(let i=0;i<fig2iAlpha.length-1;i++){if(a<=fig2iAlpha[i+1]){const f=(a-fig2iAlpha[i])/(fig2iAlpha[i+1]-fig2iAlpha[i]);return fig2iAmp[i]+f*(fig2iAmp[i+1]-fig2iAmp[i]);}}return fig2iAmp[fig2iAmp.length-1];}
(function(){
  const cv=document.getElementById('cv2g'),ctx=cv.getContext('2d'),W=cv.width,H=cv.height,img=ctx.createImageData(W,H);
  for(let px=0;px<W;px++){const a=(px+0.5)/W*4,A=ampAt(a),m=Math.min(1,a/3);
    for(let py=0;py<H;py++){const arg=2*(1-(py+0.5)/H);const sh=(1-m)*Math.cos(Math.PI*arg)+m*(1-2*Math.abs(arg-1)*-1-2)*-1;
      const tri=2*Math.abs(arg-1)-1; const shape=(1-m)*Math.cos(Math.PI*arg)+m*tri;
      const c=500-A*shape;const col=jet((c-40)/960);const k=(py*W+px)*4;img.data[k]=col[0];img.data[k+1]=col[1];img.data[k+2]=col[2];img.data[k+3]=255;}}
  ctx.putImageData(img,0,0);
  const box={x:1990,y:616,w:157,h:170};
  const sg=makeScale(box,[0,4],[0,2]);
  const g=mk('g',{});
  
  
  mk('line',{x1:sg.x(0.5),y1:box.y,x2:sg.x(0.5),y2:box.y+box.h,stroke:'#000','stroke-width':1.5},g);
  mk('line',{x1:sg.x(3),y1:box.y,x2:sg.x(3),y2:box.y+box.h,stroke:'#fff','stroke-width':1.5},g);
  [1,2,3,4].forEach(v=>txt(String(v),sg.x(v),box.y+box.h+9,7,'middle',g));
  [0,0.5,1,1.5,2].forEach(v=>txt(String(v),box.x-3,sg.y(v)+3,7,'end',g));
  txt('|α|',sg.x(2),box.y+box.h+17,8,'middle',g);txt('Arg α /π',box.x-16,box.y+box.h/2,8,'middle',g,-90);
  mk('rect',{x:2154,y:691,width:9,height:93,fill:'url(#jetv)'},g);
  const cs=makeScale({x:2154,y:691,w:9,h:93},[0,1],[40,1000]);
  [200,400,600,800,1000].forEach(v=>txt(String(v),2165,cs.y(v)+3,6.5,'start',g));
  txt('Centroid',2170,666,7,'middle',g,-90);
})();

// ---------- Fig 3 heatmaps ----------
const fig3Boxes=[{x:3829,y:113,w:170,h:162,cb:[4007,190,8,85]},{x:4081,y:113,w:171,h:166,cb:[4261,197,9,82]},{x:4340,y:111,w:174,h:168,cb:[4522,193,8,86]},
 {x:3823,y:373,w:166,h:160,cb:[3997,448,8,85]},{x:4088,y:370,w:170,h:158,cb:[4264,446,9,82]},{x:4345,y:373,w:168,h:155,cb:[4520,444,9,84]}];
const ids=['cv3a','cv3b','cv3c','cv3d','cv3e','cv3f'];
function wave(k,t){const ph=(t-fig3PeakT[k])/fig3Period[k]*2*Math.PI;const m=Math.min(1,Math.max(0,(fig3Alpha[k]-0.5)/3));return (1-m)*Math.cos(ph)+m*(2/Math.PI)*Math.asin(Math.cos(ph));}
function intensity(k,t,s){
  const ph=(t-fig3PeakT[k])/fig3Period[k]*2*Math.PI, w=wave(k,t);
  const p=150+fig3PacketAmp[k]*w, sig=fig3Width[k];
  const gs=Math.exp(-(s-p)*(s-p)/(2*sig*sig));
  const q=[1,2,3,3,3,3][k], base=[0.55,0.35,0.15,0.15,0.2,0.2][k];
  let v=gs*(base+(1-base)*Math.pow(Math.abs(w),q));
  if(k===2) v+=0.28*Math.pow(Math.max(0,Math.cos(2*ph)),8)*Math.exp(-(s-150)*(s-150)/(2*70*70))+0.1;
  if(k===3) v+=0.4*Math.pow(0.5+0.5*Math.cos(2*ph+s*0.045),8)*Math.pow(0.5+0.5*Math.cos(s*0.06),2)+0.1;
  if(k===4) v=0.6*v+0.75*Math.pow(0.5+0.5*Math.cos(0.09*s-2*ph),6)*Math.pow(0.5+0.5*Math.cos(0.045*s+ph),2)+0.12;
  if(k===5) v=0.5*v+0.65*Math.pow(0.5+0.5*Math.cos(4*ph),8)*Math.pow(0.5+0.5*Math.cos(0.22*s+ph),6)+0.12;
  return Math.min(1,v);
}
fig3Boxes.forEach((b,k)=>{
  const cv=document.getElementById(ids[k]),ctx=cv.getContext('2d'),W=cv.width,H=cv.height,img=ctx.createImageData(W,H);
  for(let px=0;px<W;px++){const t=1+(px+0.5)/W*199;
    for(let py=0;py<H;py++){const sv=300*(1-(py+0.5)/H);const col=jet(0.07+0.93*intensity(k,t,sv));const i=(py*W+px)*4;img.data[i]=col[0];img.data[i+1]=col[1];img.data[i+2]=col[2];img.data[i+3]=255;}}
  ctx.putImageData(img,0,0);
  const sc=makeScale(b,[1,200],[0,300]);
  const g=mk('g',{});
  
  
  const pts=[];for(let t=1;t<=200;t+=1)pts.push(sc.x(t)+','+sc.y(fig3CentroidMid[k]+fig3CentroidAmp[k]*wave(k,t)));
  const pl=mk('polyline',{points:pts.join(' '),fill:'none',stroke:'#fff','stroke-width':1},g);
  
  
  [50,100,150,200,250,300].forEach(v=>txt(String(v),b.x-2,sc.y(v)+3,7,'end',g));
  [50,100,150,200].forEach(v=>txt(String(v),sc.x(v),b.y+b.h+9,7,'middle',g));
  txt('Time',b.x+b.w/2,b.y+b.h+17,8,'middle',g);
  txt('Sites',b.x-19,b.y+b.h/2,8,'middle',g,-90);
  const cb=b.cb;
  const r=mk('rect',{x:cb[0],y:cb[1],width:cb[2],height:cb[3],fill:'url(#jetv)'},g);
  
  
  const cs=makeScale({x:cb[0],y:cb[1],w:cb[2],h:cb[3]},[0,1],[0,fig3CbarMax[k]]);
  fig3CbarTicks[k].forEach(v=>txt(String(v),cb[0]+cb[2]+1,cs.y(v)+3,6.5,'start',g));
  if(k!==5){const e=mk('text',{x:cb[0],y:cb[1]-3,'font-size':6.5,fill:'#111'},g);e.innerHTML='x 10<tspan dy="-3" font-size="4.5">-3</tspan>';}
  txt('Dirac norm',cb[0]+8,cb[1]-36,6.5,'middle',g,-90);
});
</script>
</body></html>
